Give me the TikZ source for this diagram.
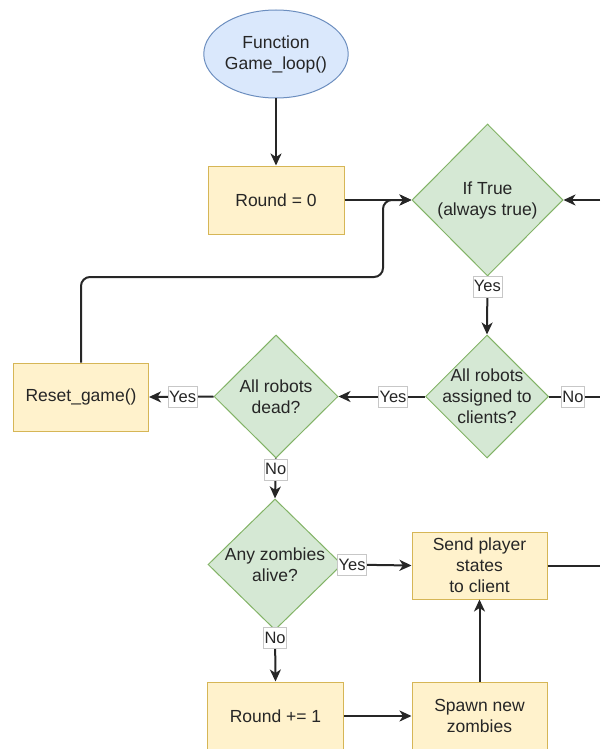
\documentclass[tikz,border=0pt]{standalone}
\usepackage{fontspec}
\setmainfont{Liberation Sans}
\usetikzlibrary{shapes.geometric,arrows.meta}

\definecolor{startfill}{HTML}{DAE8FC}
\definecolor{startline}{HTML}{6C8EBF}
\definecolor{boxfill}{HTML}{FFF2CC}
\definecolor{boxline}{HTML}{D6B656}
\definecolor{decfill}{HTML}{D5E8D4}
\definecolor{decline}{HTML}{82B366}
\definecolor{ink}{HTML}{262626}

\newcommand{\mainfs}{\fontsize{17.5}{21}\selectfont}
\newcommand{\labfs}{\fontsize{16.5}{19}\selectfont}

\begin{document}
\begin{tikzpicture}[x=1pt,y=-1pt,
  txt/.style={text=ink, font=\mainfs, align=center, inner sep=0pt},
  startnode/.style={ellipse, draw=startline, fill=startfill, line width=1pt,
    minimum width=136pt, minimum height=88pt, inner sep=0pt, txt},
  procbox/.style={rectangle, draw=boxline, fill=boxfill, line width=1pt,
    minimum width=136pt, minimum height=68pt, inner sep=0pt, txt},
  decision/.style={diamond, draw=decline, fill=decfill, line width=1pt,
    inner sep=0pt, aspect=1},
  flow/.style={draw=ink, line width=2pt, -{Stealth[length=12pt,width=11pt,inset=3.5pt]}},
  plain/.style={draw=ink, line width=2pt},
  lbl/.style={fill=white, draw=black!22, line width=0.6pt, text=ink, font=\labfs,
    inner xsep=1pt, inner ysep=0pt, minimum height=21pt}
]
\useasboundingbox (0,0) rectangle (600,749);

% shapes
\node[startnode] (start) at (276,54) {Function\\Game\_loop()};
\node[procbox] (round0) at (276,200) {Round = 0};
\node[decision, minimum width=151pt, minimum height=152pt,
  label={[txt]center:{If True\\(always true)}}] (iftrue) at (487.5,200) {};
\node[decision, minimum width=123pt, minimum height=123pt,
  label={[txt]center:{All robots\\assigned to\\clients?}}] (assigned) at (487,396.5) {};
\node[decision, minimum width=124pt, minimum height=123pt,
  label={[txt]center:{All robots\\dead?}}] (dead) at (276,396.5) {};
\node[procbox, minimum width=135pt] (reset) at (81,397) {Reset\_game()};
\node[decision, minimum width=134pt, minimum height=131pt,
  label={[txt]center:{Any zombies\\alive?}}] (zombies) at (275,564.5) {};
\node[procbox, minimum width=135pt, minimum height=67pt] (send) at (479.5,565.5) {Send player\\states\\to client};
\node[procbox] (inc) at (275.5,716) {Round += 1};
\node[procbox, minimum width=135pt] (spawn) at (479.5,716) {Spawn new\\zombies};

% loose ends leading off to the right
\coordinate (backin) at (600,200);
\coordinate (noout) at (600,396.5);
\coordinate (sendout) at (600,565.5);
\coordinate (bend) at (383,277);

% connectors
\draw[flow] (start) -- (round0);
\draw[flow] (round0) -- (iftrue.west);
\draw[flow] (backin) -- (iftrue.east);
\draw[flow, rounded corners=9pt] (reset.north) |- (bend) |- (iftrue.west);
\draw[flow] (iftrue.south) -- node[lbl, pos=0.17] {Yes} (assigned.north);
\draw[flow] (assigned.west) -- node[lbl, pos=0.37] {Yes} (dead.east);
\draw[plain] (assigned.east) -- node[lbl, pos=0.47] {No} (noout);
\draw[flow] (dead.west) -- node[lbl, pos=0.48] {Yes} (reset.east);
\draw[flow] (dead.south) -- node[lbl, pos=0.27] {No} (zombies.north);
\draw[flow] (zombies.east) -- node[lbl, pos=0.14] {Yes} (send.west);
\draw[plain] (send.east) -- (sendout);
\draw[flow] (zombies.south) -- node[lbl, pos=0.15] {No} (inc.north);
\draw[flow] (inc) -- (spawn);
\draw[flow] (spawn) -- (send);
\end{tikzpicture}
\end{document}
